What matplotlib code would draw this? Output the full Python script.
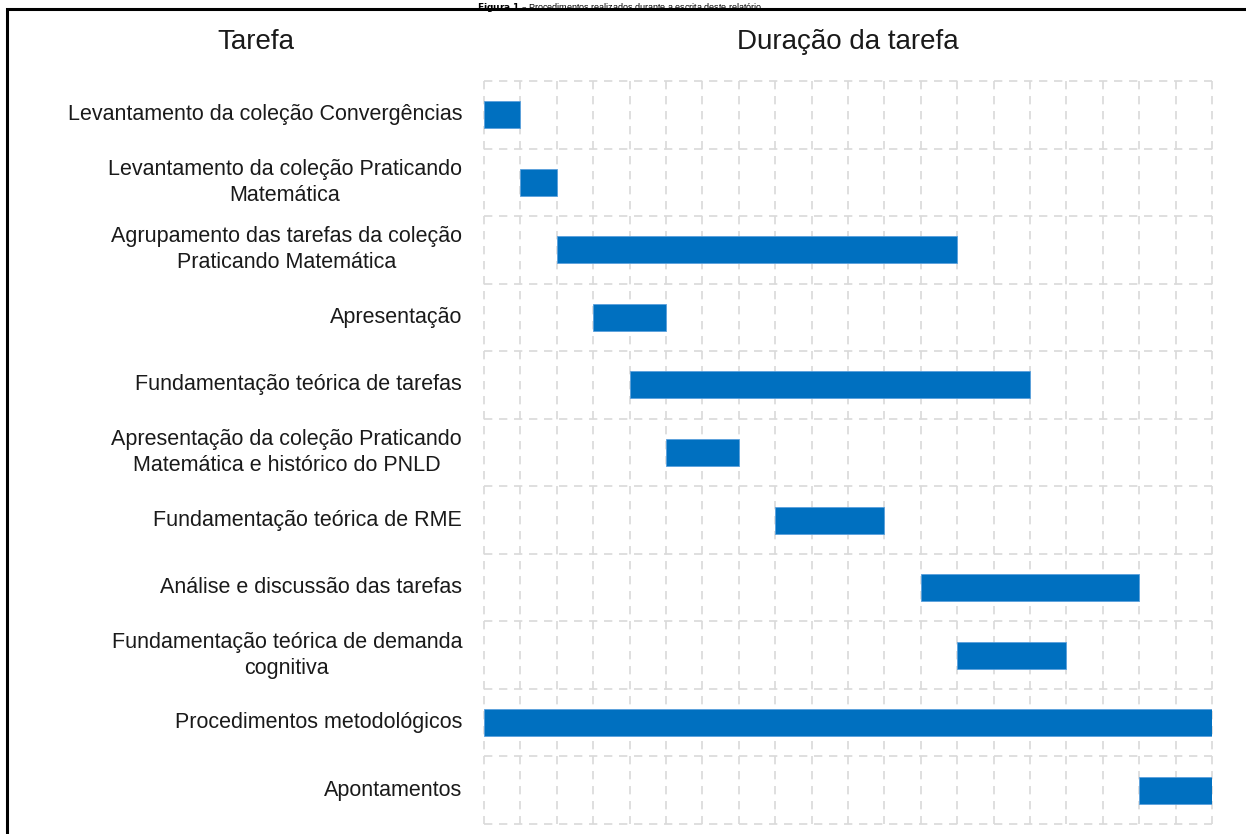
import matplotlib
matplotlib.use("Agg")
import matplotlib.pyplot as plt
import matplotlib.transforms as mtrans
from matplotlib.patches import Rectangle

tasks = [
    "Levantamento da coleção Convergências",
    "Levantamento da coleção Praticando\nMatemática",
    "Agrupamento das tarefas da coleção\nPraticando Matemática",
    "Apresentação",
    "Fundamentação teórica de tarefas",
    "Apresentação da coleção Praticando\nMatemática e histórico do PNLD",
    "Fundamentação teórica de RME",
    "Análise e discussão das tarefas",
    "Fundamentação teórica de demanda\ncognitiva",
    "Procedimentos metodológicos",
    "Apontamentos",
]
starts = [0, 1, 2, 3, 4, 5, 8, 12, 13, 0, 18]
durations = [1, 1, 11, 2, 11, 2, 3, 6, 3, 20, 2]
n_periods = 20

plt.rcParams['font.family'] = ['Liberation Sans', 'DejaVu Sans']

W, H = 1246, 834
fig = plt.figure(figsize=(W / 100, H / 100), dpi=100)
ax = fig.add_axes([484 / W, 1 - 824 / H, (1212 - 484) / W, (824 - 81) / H])

n = len(tasks)
ys = list(range(n))
grid_col = '#d9d9d9'
ax.vlines(range(n_periods + 1), -0.5, n - 0.5, colors=grid_col, linestyles=(0, (5, 4)),
          linewidth=1.2, zorder=1, clip_on=False)
ax.hlines([i - 0.5 for i in range(n + 1)], 0, n_periods, colors=grid_col,
          linestyles=(0, (5, 4)), linewidth=1.2, zorder=1, clip_on=False)

ax.barh(ys, durations, left=starts, height=0.4, color='#0070C0',
        edgecolor='#5aa0dc', linewidth=0.6, zorder=3)

ax.set_xlim(0, n_periods)
ax.set_ylim(n - 0.5, -0.5)
ax.set_xticks([])
ax.set_yticks([])
for s in ax.spines.values():
    s.set_visible(False)

trans = mtrans.offset_copy(ax.get_yaxis_transform(), fig=fig, x=-22, y=0, units='dots')
for y, t in zip(ys, tasks):
    ax.text(0, y, t, transform=trans, ha='right', va='center', multialignment='center',
            fontsize=15.5, color='#1a1a1a', linespacing=1.3)

fig.text(256 / W, 1 - 42 / H, "Tarefa", ha='center', va='center', fontsize=20, color='#1a1a1a')
fig.text(848 / W, 1 - 42 / H, "Duração da tarefa", ha='center', va='center', fontsize=20,
         color='#1a1a1a')

# frame
fig.patches.append(Rectangle((7 / W, -0.1), 1.2, 1 - 9 / H + 0.1, transform=fig.transFigure,
                             fill=False, edgecolor='black', linewidth=2.2))
# caption at top (cut off in the reference)
fig.text(620 / W, 1 - 1 / H,
         r"$\bf{Figura\ 1}$ – Procedimentos realizados durante a escrita deste relatório",
         ha='center', va='top', fontsize=6.5, color='black')

fig.savefig("out.png", dpi=100)
